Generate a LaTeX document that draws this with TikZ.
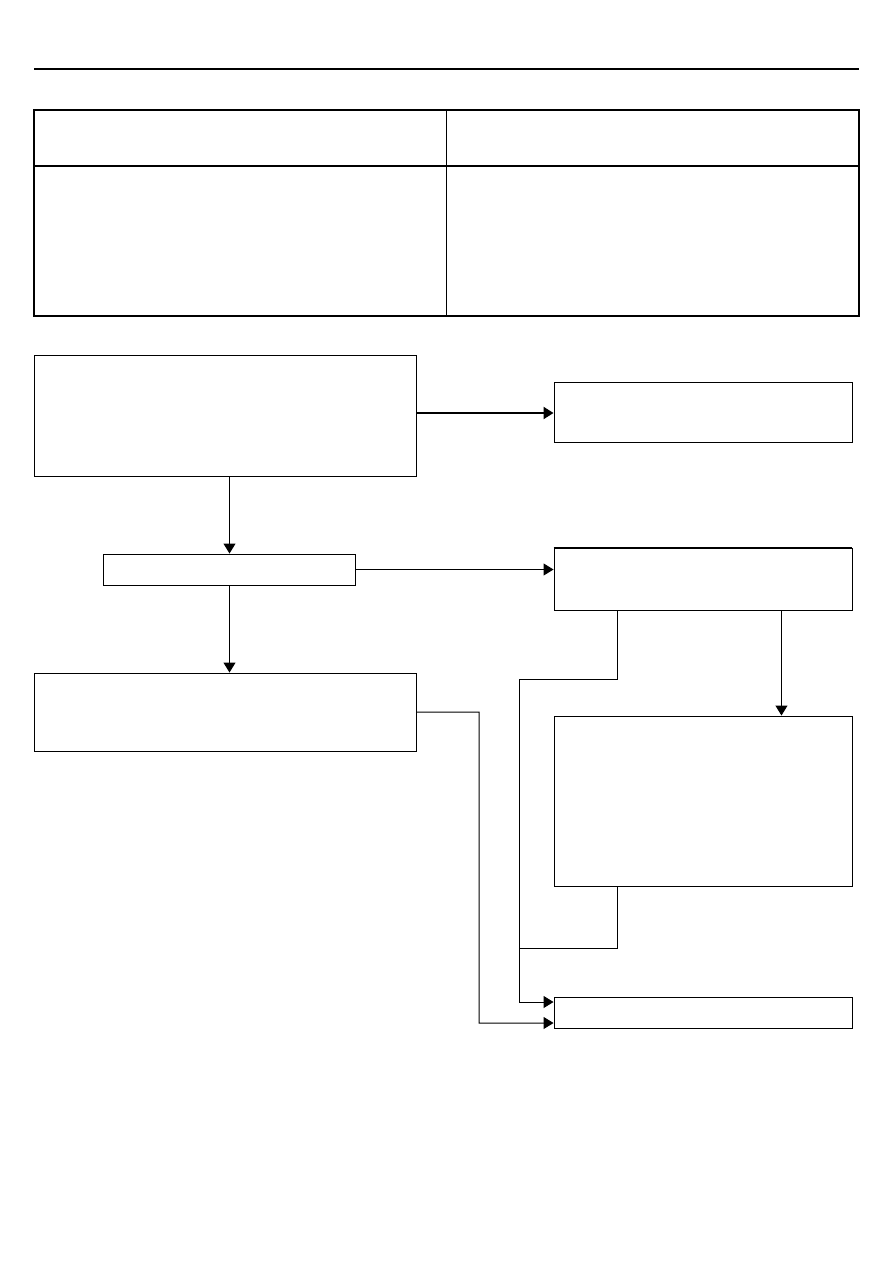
\documentclass[tikz,border=0pt]{standalone}
\usetikzlibrary{arrows.meta}

\tikzset{
    box/.style={rectangle,draw,line width=0.8pt,inner sep=0pt},
    arr/.style={line width=0.85pt,-{Triangle[length=3mm,width=3.6mm]}},
    conn/.style={line width=0.85pt}
}

\begin{document}
\begin{tikzpicture}[x=0.03cm,y=-0.03cm]
        \useasboundingbox (0,0) rectangle (893,1263);

        % header rule and table
        \draw[line width=1.7pt] (34,69) -- (859,69);
        \draw[line width=0.9pt] (34,110) rectangle (859,316);
        \draw[line width=0.9pt] (34,166) -- (859,166);
        \draw[line width=0.6pt] (446,110) -- (446,316);

        % boxes
        \node[box, minimum width=11.46cm, minimum height=3.63cm] (A) at (225,415.5) {};
        \node[box, minimum width=8.94cm, minimum height=1.8cm] (B) at (703,412) {};
        \node[box, minimum width=7.56cm, minimum height=0.93cm] (C) at (229.5,569.5) {};
        \node[box, minimum width=8.94cm, minimum height=1.86cm] (D) at (703,579) {};
        \node[box, minimum width=11.46cm, minimum height=2.34cm] (E) at (225,712) {};
        \node[box, minimum width=8.94cm, minimum height=5.1cm] (F) at (703,801) {};
        \node[box, minimum width=8.94cm, minimum height=0.93cm] (G) at (703,1012.5) {};
        \draw[line width=1.7pt] (D.north west) -- (D.north east);

        \coordinate (jD) at (519,679);
        \coordinate (jF) at (519,948);
        \coordinate (jE) at (479,1023);

        % connectors
        \draw[arr, line width=1.7pt] ([yshift=-0.03cm]A.east |- B) -- ([yshift=-0.03cm]B.west);
        \draw[arr] (A.south -| C) -- (C);
        \draw[arr] (C.east) -- (D.west |- C.east);
        \draw[arr] (C.south) -- (C.south |- E.north);
        \draw[arr] ([xshift=-2.13cm]D.south east) -- ([xshift=-2.13cm]F.north east);
        \draw[arr] ([xshift=1.92cm]D.south west) |- (jD) |- ([yshift=0.315cm]G.west);
        \draw[conn] ([xshift=1.92cm]F.south west) |- (jF);
        \draw[arr] (E.east) -| (jE) -- ([yshift=-0.315cm]G.west);
    \end{tikzpicture}
\end{document}
